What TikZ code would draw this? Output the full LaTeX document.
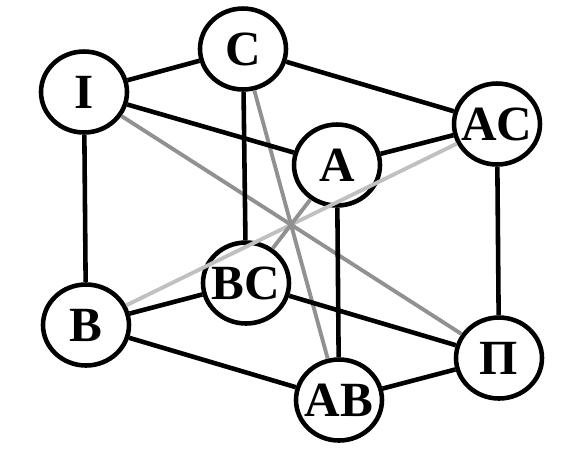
\documentclass[tikz,border=0pt]{standalone}
\usepackage{fontspec}
\setmainfont{Liberation Serif}
\usepackage{tikz}
\usetikzlibrary{shapes.geometric, positioning}
\definecolor{diaggray}{RGB}{145,145,145}
\definecolor{diaglight}{RGB}{192,192,192}
\newcommand{\vlabel}[1]{\makebox[0pt]{#1}}
\tikzset{
  vertex/.style={
    ellipse, draw=black, fill=white, line width=2.6pt,
    minimum width=1.72cm, minimum height=1.62cm, inner sep=0pt,
    font=\fontsize{28}{28}\selectfont\bfseries, text centered
  },
  edge/.style={line width=2.6pt, color=black},
  diagline/.style={line width=2.2pt, color=diaggray},
  lightline/.style={line width=2.2pt, color=diaglight}
}
\begin{document}
\begin{tikzpicture}[x=0.02cm, y=-0.02cm]
  \useasboundingbox (0,0) rectangle (582,454);
  % top face
  \node[vertex] (I) at (84,92) {\vlabel{I}};
  \node[vertex] (C) at (243,49) {\vlabel{C}};
  \node[vertex] (A) at (337,165) {\vlabel{A}};
  \node[vertex] (AC) at (497,124) {\vlabel{AC}};
  % bottom face
  \node[vertex] (B) at (86,325) {\vlabel{B}};
  \node[vertex] (BC) at (246,283) {\vlabel{BC}};
  \node[vertex] (AB) at (339,400) {\vlabel{AB}};
  \node[vertex] (P) at (499,358) {\vlabel{Π}};

  % diagonals
  \draw[lightline] (B) -- (AC);
  \draw[diagline] (I) -- (P);
  \draw[diagline] (C) -- (AB);
  \draw[diagline] (A) -- (BC);

  % cube edges
  \draw[edge] (I) -- (C);
  \draw[edge] (C) -- (AC);
  \draw[edge] (I) -- (A);
  \draw[edge] (A) -- (AC);
  \draw[edge] (I) -- (B);
  \draw[edge] (C) -- (BC);
  \draw[edge] (A) -- (AB);
  \draw[edge] (AC) -- (P);
  \draw[edge] (B) -- (BC);
  \draw[edge] (BC) -- (P);
  \draw[edge] (B) -- (AB);
  \draw[edge] (AB) -- (P);
\end{tikzpicture}
\end{document}
